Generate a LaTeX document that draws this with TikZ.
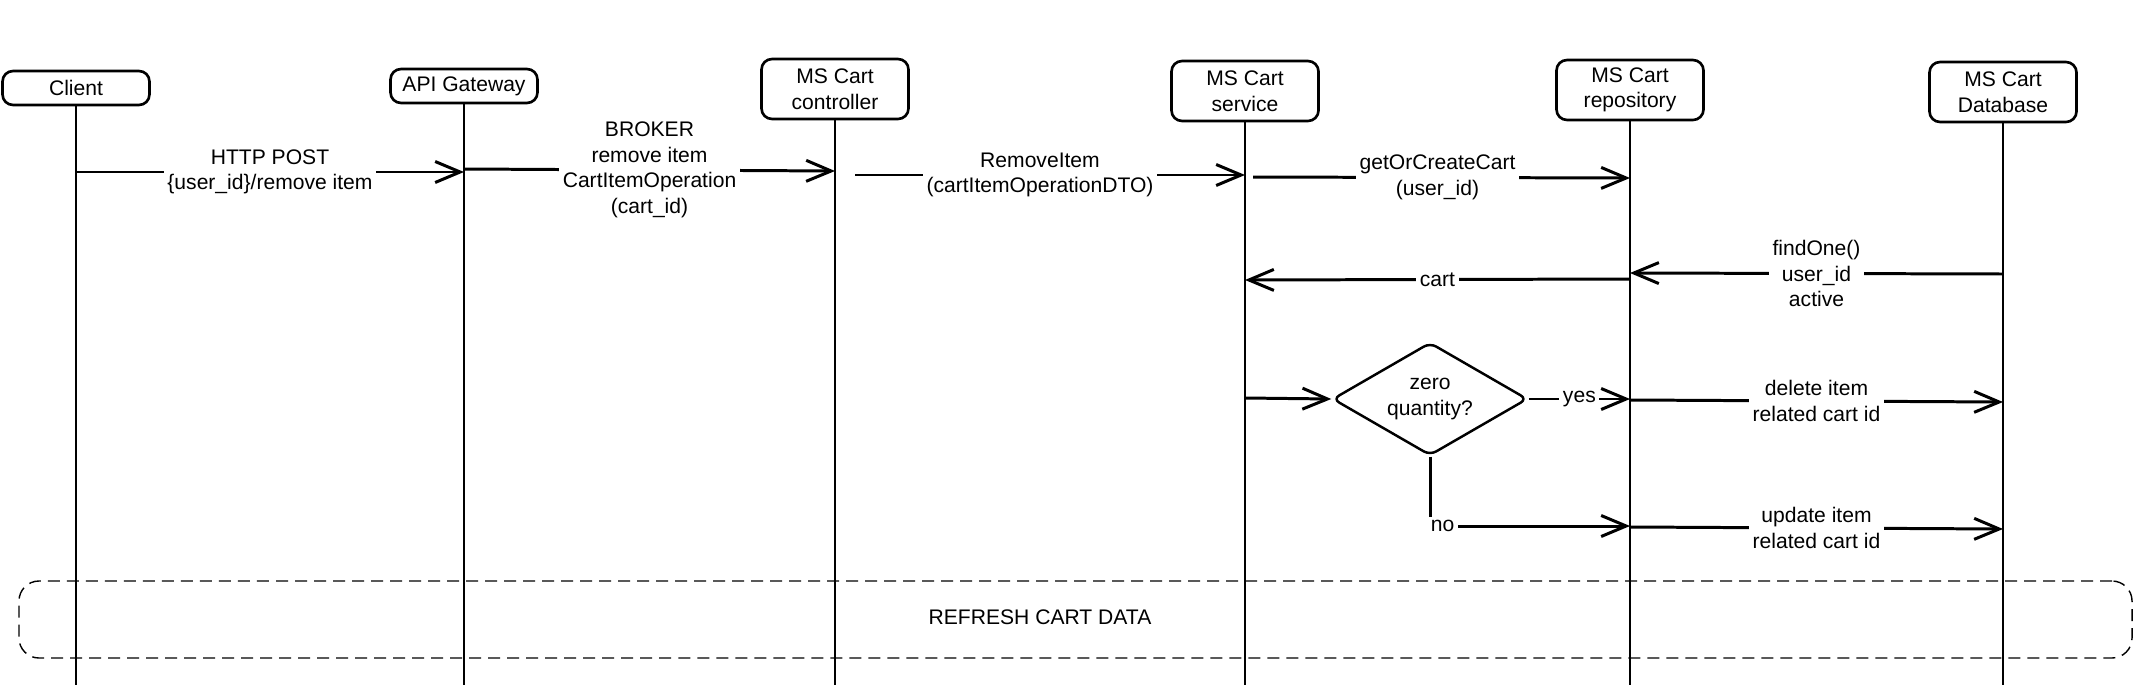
\documentclass[tikz,border=0pt]{standalone}
\usepackage{fontspec}
\setmainfont{Liberation Sans}
\usetikzlibrary{shapes.geometric, arrows.meta, positioning}

\begin{document}
\begin{tikzpicture}[
    x=0.2mm, y=-0.2mm,
    every node/.style={font=\fontsize{12}{14.5}\selectfont},
    actor/.style={rectangle, draw, rounded corners=6pt, line width=1.5pt, minimum width=29.4mm, minimum height=6.8mm, align=center},
    lifeline/.style={line width=1.2pt},
    decision/.style={diamond, draw, rounded corners=4pt, line width=1.4pt, aspect=1.7, inner sep=0pt, minimum width=39mm, minimum height=22.6mm, align=center},
    group/.style={rectangle, draw, rounded corners=4mm, line width=0.8pt, dash pattern=on 2.4mm off 1.4mm},
    arrow/.style={line width=1.7pt, ->, >={Straight Barb[length=5mm, width=4.2mm]}},
    msg/.style={fill=white, align=center, inner sep=2pt}
]
    \useasboundingbox (0,0) rectangle (2139,685);

    % Participants
    \node[actor] (client) at (76,88) {Client};
    \node[actor] (gateway) at (464,86) {API Gateway};
    \node[actor, minimum height=12mm] (controller) at (835,89) {MS Cart\\controller};
    \node[actor, minimum height=12mm] (service) at (1245,91) {MS Cart\\service};
    \node[actor, minimum height=12mm] (repository) at (1630,90) {MS Cart\\repository};
    \node[actor, minimum height=12mm] (database) at (2003,92) {MS Cart\\Database};

    % Lifelines
    \draw[lifeline] (client.south) -- (client |- 0,685);
    \draw[lifeline] (gateway.south) -- (gateway |- 0,685);
    \draw[lifeline] (controller.south) -- (controller |- 0,685);
    \draw[lifeline] (service.south) -- (service |- 0,685);
    \draw[lifeline] (repository.south) -- (repository |- 0,685);
    \draw[lifeline] (database.south) -- (database |- 0,685);

    % Decision
    \node[decision] (zero) at (1430,399) {zero\\quantity?};

    % Refresh block
    \node[group, minimum width=422.6mm, minimum height=15.4mm] (refresh) at (1075.5,619.5) {};
    \node (refreshtext) at (1040,617) {REFRESH CART DATA};

    % Messages
    \draw[arrow] (client |- 0,172) -- node[msg] {HTTP POST\\\{user\_id\}/remove item} (gateway |- 0,172);
    \draw[arrow] (gateway |- 0,169) -- node[msg] {BROKER\\remove item\\CartItemOperation\\(cart\_id)} (controller |- 0,171);
    \draw[arrow, shorten <=4mm] (controller |- 0,175) -- node[msg] {RemoveItem\\(cartItemOperationDTO)} (service |- 0,175);
    \draw[arrow, shorten <=1.6mm] (service |- 0,177) -- node[msg] {getOrCreateCart\\(user\_id)} (repository |- 0,178);
    \draw[arrow] (database |- 0,274) -- node[msg] {findOne()\\user\_id\\active} (repository |- 0,273);
    \draw[arrow] (repository |- 0,279) -- node[msg] {cart} (service |- 0,280);

    % Branches
    \draw[arrow] (service |- 0,398) -- (zero.west);
    \draw[arrow] (zero.east) -- node[msg] {yes} (repository |- 0,399);
    \draw[arrow] (repository |- 0,400) -- node[msg] {delete item\\related cart id} (database |- 0,402);
    \draw[arrow] (zero.south) |- node[msg, pos=0.5, xshift=2.5mm] {no} (repository |- 0,526);
    \draw[arrow] (repository |- 0,527) -- node[msg] {update item\\related cart id} (database |- 0,529);

\end{tikzpicture}
\end{document}
